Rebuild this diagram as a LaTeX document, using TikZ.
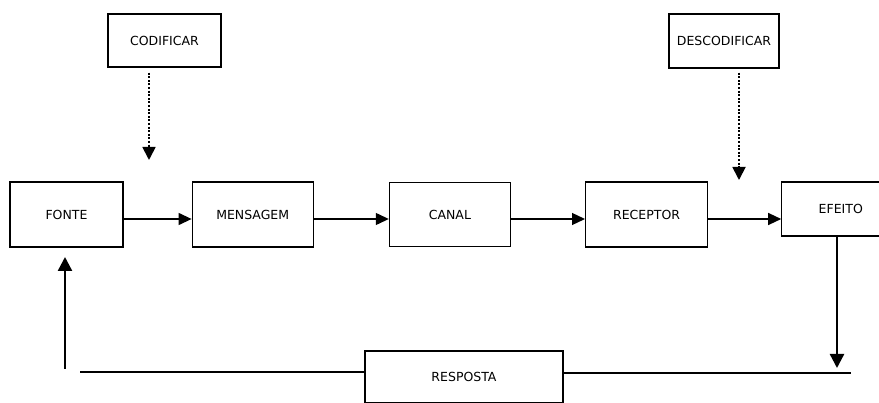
\documentclass[tikz,border=0pt]{standalone}
\usepackage{fontspec}
\setsansfont{DejaVu Sans}
\usepackage{tikz}
\usetikzlibrary{arrows.meta,positioning}

\begin{document}
\begin{tikzpicture}[
  x=1pt,y=-1pt,
  font=\sffamily\fontsize{12.5}{14}\selectfont,
  box/.style={draw=black,line width=1.2pt,fill=white,align=center,minimum height=65pt,minimum width=121pt,inner sep=2pt},
  arr/.style={-{Triangle[length=13pt,width=12pt]},line width=1.3pt},
  dotarr/.style={-{Triangle[length=13pt,width=13pt]},line width=1.8pt,dash pattern=on 2pt off 1.6pt},
  fbarr/.style={-{Triangle[length=14pt,width=14pt]},line width=2.4pt}]
  \clip (0,0) rectangle (879,403);
  \fill[white] (0,0) rectangle (879,403);
  \node[box,minimum width=113pt] (fonte) at (66.5,214.5) {FONTE};
  \node[box,right=68pt of fonte] (mensagem) {MENSAGEM};
  \node[box,right=75pt of mensagem,minimum height=64pt] (canal) {CANAL};
  \node[box,right=74pt of canal,minimum width=122pt] (receptor) {RECEPTOR};
  \node[box,right=73pt of receptor,yshift=5.5pt,minimum width=118pt,minimum height=54pt] (efeito) {EFEITO};
  \node[box,minimum width=113pt,minimum height=53pt] (codificar) at (164.5,40.5) {CODIFICAR};
  \node[box,minimum width=110pt,minimum height=54pt] (descodificar) at (724,41) {DESCODIFICAR};
  \node[box,minimum width=198pt,minimum height=52pt] (resposta) at (464,377) {RESPOSTA};
  % free ends
  \coordinate (codend) at (149,160);
  \coordinate (desend) at (739,180);
  \coordinate (effend) at (837,368);
  \coordinate (rightend) at (851,373);
  \coordinate (leftend) at (80,372);
  \coordinate (upstart) at (65,369);
  \coordinate (uptip) at (65,257);
  \draw[arr] ([yshift=-4.5pt]fonte.east) -- ([yshift=-4.5pt]fonte.east -| mensagem.west);
  \draw[arr] ([yshift=-4.5pt]mensagem.east) -- ([yshift=-4.5pt]mensagem.east -| canal.west);
  \draw[arr] ([yshift=-4.5pt]canal.east) -- ([yshift=-4.5pt]canal.east -| receptor.west);
  \draw[arr] ([yshift=-4.5pt]receptor.east) -- ([yshift=-4.5pt]receptor.east -| efeito.west);
  \draw[dotarr] ([yshift=-5pt]codificar.south -| codend) -- (codend);
  \draw[dotarr] ([yshift=-4pt]descodificar.south -| desend) -- (desend);
  \draw[fbarr] (efeito.south -| effend) -- (effend);
  \draw[line width=2.4pt] (resposta.east |- rightend) -- (rightend);
  \draw[line width=1.3pt] (leftend) -- (leftend -| resposta.west);
  \draw[fbarr] (upstart) -- (uptip);
\end{tikzpicture}
\end{document}
